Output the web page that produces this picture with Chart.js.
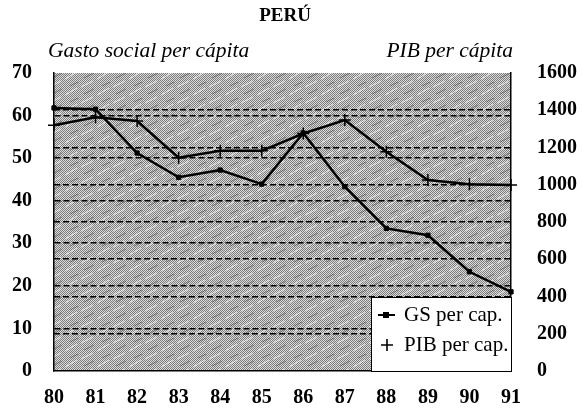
<!DOCTYPE html>
<html>
<head>
<meta charset="utf-8">
<script src="https://cdn.jsdelivr.net/npm/chart.js@4"></script>
<style>
  html, body { margin: 0; padding: 0; background: #fff; }
  #wrap { width: 583px; height: 410px; }
</style>
</head>
<body>
<div id="wrap"><canvas id="peru_chart" width="583" height="410"></canvas></div>
<script>
// values
const years = ["80", "81", "82", "83", "84", "85", "86", "87", "88", "89", "90", "91"];
const gsPerCap = [61.8, 61.5, 51.2, 45.5, 47.2, 43.9, 55.9, 43.3, 33.5, 31.9, 23.3, 18.6];
const pibPerCap = [1320, 1362, 1342, 1145, 1182, 1182, 1275, 1347, 1177, 1025, 1003, 998];
const leftTicks = [0, 10, 20, 30, 40, 50, 60, 70];
const rightTicks = [0, 200, 400, 600, 800, 1000, 1200, 1400, 1600];

const serif = "'Liberation Serif', 'DejaVu Serif', serif";

// grey stippled texture for the plot area
function makePattern(ctx) {
    const c = document.createElement("canvas");
    c.width = 32; c.height = 16;
    const p = c.getContext("2d");
    p.fillStyle = "#dcdcdc";
    p.fillRect(0, 0, 32, 16);
    p.fillStyle = "#7c7c7c";
    for (let y = 0; y < 16; y++) {
        for (let x = (y % 2); x < 32; x += 2) p.fillRect(x, y, 1, 1);
    }
    p.strokeStyle = "rgba(250,250,250,0.75)";
    p.lineWidth = 1;
    p.beginPath();
    p.moveTo(1, 15); p.lineTo(13, 8);
    p.moveTo(17, 7); p.lineTo(29, 1);
    p.stroke();
    p.strokeStyle = "rgba(60,60,60,0.5)";
    p.beginPath();
    p.moveTo(6, 6); p.lineTo(14, 2);
    p.moveTo(20, 14); p.lineTo(30, 9);
    p.stroke();
    return ctx.createPattern(c, "repeat");
}

const decorations = {
    id: "decorations",
    beforeDraw(chart) {
        const {ctx, chartArea: a} = chart;
        ctx.save();
        ctx.fillStyle = makePattern(ctx);
        ctx.fillRect(a.left, a.top, a.right - a.left, a.bottom - a.top);
        ctx.restore();
    },
    afterDraw(chart) {
        const {ctx, chartArea: a} = chart;
        ctx.save();
        ctx.fillStyle = "#000";
        ctx.textBaseline = "middle";
        ctx.font = "bold 19px " + serif;
        ctx.textAlign = "center";
        ctx.fillText("PERÚ", 285, 16);
        ctx.font = "italic 21.5px " + serif;
        ctx.textAlign = "left";
        ctx.fillText("Gasto social per cápita", 48, 51);
        ctx.textAlign = "right";
        ctx.fillText("PIB per cápita", 513, 51);

        // legend box
        const bx = 371, by = 297, bw = a.right - 371, bh = a.bottom - 297;
        ctx.fillStyle = "#fff";
        ctx.fillRect(bx, by, bw, bh);
        ctx.strokeStyle = "#000";
        ctx.lineWidth = 1;
        ctx.strokeRect(bx + 0.5, by + 0.5, bw, bh);

        ctx.fillStyle = "#000";
        ctx.font = "21px " + serif;
        ctx.textAlign = "left";
        // GS row
        ctx.lineWidth = 2;
        ctx.beginPath();
        ctx.moveTo(378, 315); ctx.lineTo(395, 315);
        ctx.stroke();
        ctx.fillRect(383, 312, 6, 6);
        ctx.fillText("GS per cap.", 404, 315);
        // PIB row
        ctx.lineWidth = 1.6;
        ctx.beginPath();
        ctx.moveTo(381, 345); ctx.lineTo(393, 345);
        ctx.moveTo(387, 339); ctx.lineTo(387, 351);
        ctx.stroke();
        ctx.fillText("PIB per cap.", 404, 345);
        ctx.restore();
    }
};

const tickFont = { family: serif, size: 20, weight: "bold" };

const ctx = document.getElementById("peru_chart");
const peru_chart = new Chart(ctx, {
    type: "line",
    data: {
        labels: years,
        datasets: [{
            label: "GS per cap.",
            data: gsPerCap,
            yAxisID: "y",
            borderColor: "#000",
            backgroundColor: "#000",
            borderWidth: 2.5,
            pointStyle: "rect",
            pointRadius: 3,
            pointBorderWidth: 1,
            tension: 0
        }, {
            label: "PIB per cap.",
            data: pibPerCap,
            yAxisID: "y1",
            borderColor: "#000",
            backgroundColor: "#000",
            borderWidth: 2.5,
            pointStyle: "cross",
            pointRadius: 6,
            pointBorderWidth: 1.5,
            tension: 0
        }]
    },
    options: {
        responsive: false,
        animation: false,
        layout: { padding: { top: 73, left: 0, right: 0, bottom: 0 } },
        plugins: {
            legend: { display: false },
            tooltip: { enabled: false }
        },
        scales: {
            x: {
                offset: false,
                grid: { display: false, drawTicks: false },
                border: { display: true, color: "#000", width: 1.5 },
                ticks: { color: "#000", font: tickFont, padding: 15, maxRotation: 0 },
                afterFit(scale) { scale.height = 39; }
            },
            y: {
                position: "left",
                min: 0,
                max: 70,
                afterBuildTicks(scale) { scale.ticks = leftTicks.map(v => ({ value: v })); },
                grid: {
                    drawTicks: false,
                    lineWidth: 1.6,
                    color: c => (c.tick && c.tick.value > 0 && c.tick.value < 70) ? "#000" : "rgba(0,0,0,0)"
                },
                border: { display: true, color: "#000", width: 1.5, dash: [6, 3] },
                ticks: { color: "#000", font: tickFont, padding: 22, callback: v => String(v) },
                afterFit(scale) { scale.width = 54; }
            },
            y1: {
                position: "right",
                min: 0,
                max: 1600,
                afterBuildTicks(scale) { scale.ticks = rightTicks.map(v => ({ value: v })); },
                grid: {
                    drawTicks: false,
                    lineWidth: 1.6,
                    color: c => (c.tick && c.tick.value > 0 && c.tick.value < 1600) ? "#000" : "rgba(0,0,0,0)"
                },
                border: { display: true, color: "#000", width: 1.5, dash: [6, 3] },
                ticks: { color: "#000", font: tickFont, padding: 26, callback: v => String(v) },
                afterFit(scale) { scale.width = 72; }
            }
        }
    },
    plugins: [decorations]
});
</script>
</body>
</html>
